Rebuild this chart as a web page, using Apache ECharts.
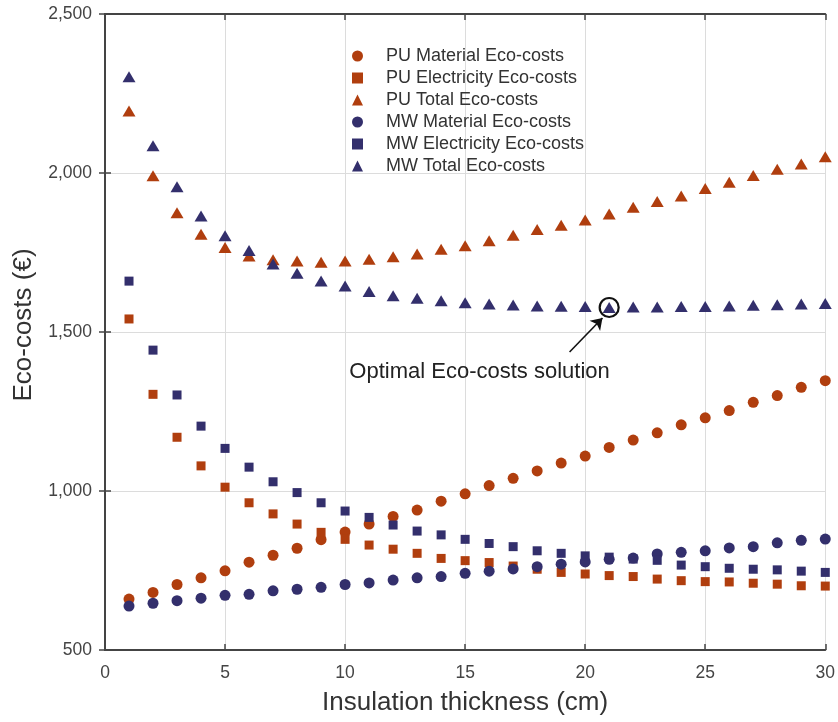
<!DOCTYPE html>
<html>
<head>
<meta charset="utf-8">
<script src="https://cdn.jsdelivr.net/npm/echarts@6/dist/echarts.min.js"></script>
<style>html,body{margin:0;padding:0;background:#fff;}#c{width:838px;height:722px;}</style>
</head>
<body>
<div id="c"></div>
<script>
const thickness = [1,2,3,4,5,6,7,8,9,10,11,12,13,14,15,16,17,18,19,20,21,22,23,24,25,26,27,28,29,30];
const puMaterial = [660,681,706,727,749,776,798,820,847,871,896,920,940,968,991,1017,1040,1063,1088,1110,1137,1160,1183,1208,1230,1253,1279,1300,1326,1347];
const puElectricity = [1541,1304,1169,1079,1012,963,928,896,870,848,830,817,804,788,781,775,764,754,744,739,734,731,723,718,715,714,710,707,702,701];
const puTotal = [2195,1991,1875,1807,1766,1739,1727,1723,1719,1723,1729,1737,1745,1760,1771,1787,1804,1822,1836,1852,1871,1892,1910,1928,1951,1971,1992,2012,2028,2051];
const mwMaterial = [638,647,655,663,672,675,686,691,697,706,711,720,727,731,741,748,755,762,770,777,785,789,802,807,812,821,825,837,845,849];
const mwElectricity = [1660,1443,1302,1204,1134,1075,1029,995,963,937,917,893,874,862,848,835,825,812,804,796,792,786,782,767,762,757,754,752,748,744];
const mwTotal = [2303,2086,1957,1865,1803,1756,1714,1685,1660,1645,1627,1614,1606,1598,1592,1588,1585,1582,1581,1580,1577,1579,1579,1580,1580,1582,1584,1586,1588,1590];
const seriesNames = ['PU Material Eco-costs','PU Electricity Eco-costs','PU Total Eco-costs','MW Material Eco-costs','MW Electricity Eco-costs','MW Total Eco-costs'];
const yTicks = [500,1000,1500,2000,2500];
const xTicks = [0,5,10,15,20,25,30];
const optimalPoint = [21, 1577];
const annotationText = 'Optimal Eco-costs solution';
const arrowFrom = [19.35, 1437];
const arrowTo = [20.72, 1544];
const textAt = [15.6, 1374];

const ORANGE = '#b03e0e';
const NAVY = '#332f6c';
const FONT = 'Liberation Sans, Arial, sans-serif';

function pairs(arr){ return arr.map((v,i)=>[thickness[i], v]); }

const chart = echarts.init(document.getElementById('c'));
const styles = [
  {sym:'circle', size:11, color:ORANGE, data:puMaterial},
  {sym:'rect', size:9, color:ORANGE, data:puElectricity},
  {sym:'triangle', size:[13,11], color:ORANGE, data:puTotal},
  {sym:'circle', size:11, color:NAVY, data:mwMaterial},
  {sym:'rect', size:9, color:NAVY, data:mwElectricity},
  {sym:'triangle', size:[13,11], color:NAVY, data:mwTotal}
];
const series = styles.map((s,i)=>({
  name: seriesNames[i],
  type: 'scatter',
  symbol: s.sym,
  symbolSize: s.size,
  itemStyle: {color: s.color, opacity: 1},
  data: pairs(s.data),
  z: 3
}));
series[5].markPoint = {
  silent: true,
  data: [
    {coord: optimalPoint, symbol: 'circle', symbolSize: 19,
     itemStyle: {color: 'rgba(0,0,0,0)', borderColor: '#111', borderWidth: 2.2}, label:{show:false}},
    {coord: textAt, symbol: 'circle', symbolSize: 0,
     label: {show: true, position: 'inside', formatter: annotationText, color: '#222', fontSize: 22, fontFamily: FONT}}
  ]
};
series[5].markLine = {
  silent: true,
  symbol: ['none','arrow'],
  symbolSize: 11,
  lineStyle: {color: '#111', width: 1.6, type: 'solid'},
  label: {show:false},
  data: [[{coord: arrowFrom}, {coord: arrowTo}]]
};

const axisLine = {show:true, lineStyle:{color:'#444', width:2}};
chart.setOption({
  animation: false,
  backgroundColor: '#fff',
  grid: {left:105, right:12, top:14, bottom:72},
  legend: {
    orient: 'vertical', left: 347, top: 42,
    itemWidth: 11, itemHeight: 11, itemGap: 4,
    textStyle: {fontSize: 18, color: '#333', fontFamily: FONT, padding: [0,0,0,18]},
    data: seriesNames.map((n,i)=>({name:n, icon: styles[i].sym}))
  },
  xAxis: [{
    type: 'value', min: 0, max: 30, interval: 5,
    name: 'Insulation thickness (cm)', nameLocation: 'middle', nameGap: 40,
    nameTextStyle: {fontSize: 26, color: '#333', fontFamily: FONT},
    axisLine: axisLine,
    axisTick: {show:true, inside:true, length:6, lineStyle:{color:'#444', width:1.5}},
    axisLabel: {fontSize: 17.5, color: '#444', margin: 14, fontFamily: FONT},
    splitLine: {show:true, lineStyle:{color:'#dcdcdc', width:1}}
  },{
    type: 'value', min: 0, max: 30, interval: 5, position: 'top',
    axisLine: axisLine,
    axisTick: {show:true, inside:true, length:6, lineStyle:{color:'#444', width:1.5}},
    axisLabel: {show:false}, splitLine: {show:false}
  }],
  yAxis: [{
    type: 'value', min: 500, max: 2500, interval: 500,
    name: 'Eco-costs (€)', nameLocation: 'middle', nameGap: 66,
    nameTextStyle: {fontSize: 26, color: '#333', fontFamily: FONT, padding: [0,0,0,14]},
    axisLine: axisLine,
    axisTick: {show:true, inside:true, length:6, lineStyle:{color:'#444', width:1.5}},
    axisLabel: {fontSize: 17.5, color: '#444', margin: 13, fontFamily: FONT,
      formatter: v => v.toLocaleString('en-US')},
    splitLine: {show:true, lineStyle:{color:'#dcdcdc', width:1}}
  },{
    type: 'value', min: 500, max: 2500, interval: 500, position: 'right',
    axisLine: axisLine,
    axisTick: {show:true, inside:true, length:6, lineStyle:{color:'#444', width:1.5}},
    axisLabel: {show:false}, splitLine: {show:false}
  }],
  series: series
});
</script>
</body>
</html>
